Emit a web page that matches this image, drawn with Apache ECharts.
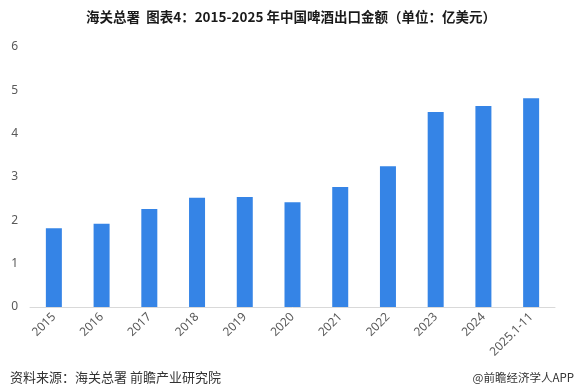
<!DOCTYPE html>
<html><head><meta charset="utf-8">
<script src="https://cdn.jsdelivr.net/npm/echarts@6/dist/echarts.min.js"></script>
<style>html,body{margin:0;padding:0;background:#fff}#c{width:582px;height:388px}</style>
</head><body><div id="c"></div>
<script>
const titleText = '海关总署  图表4：2015-2025 年中国啤酒出口金额（单位：亿美元）';
const sourceText = '资料来源：海关总署 前瞻产业研究院';
const brandText = '@前瞻经济学人APP';
const categories = ['2015','2016','2017','2018','2019','2020','2021','2022','2023','2024','2025.1-11'];
const values = [1.82, 1.92, 2.26, 2.52, 2.54, 2.42, 2.77, 3.25, 4.50, 4.64, 4.82];
const yTicks = [0,1,2,3,4,5,6];

const chart = echarts.init(document.getElementById('c'));
chart.setOption({
  animation: false,
  title: [
    {text: titleText, left: 'center', top: 5,
     textStyle: {fontFamily: 'Noto Sans CJK SC', fontSize: 13.5, fontWeight: 'bold', color: '#1a1a1a'}},
    {text: sourceText, left: 5, top: 366,
     textStyle: {fontFamily: 'Noto Sans CJK SC', fontSize: 13, fontWeight: 'normal', color: '#333'}},
    {text: brandText, right: 3, top: 367,
     textStyle: {fontFamily: 'Noto Sans CJK SC', fontSize: 11.5, fontWeight: 'normal', color: '#333'}}
  ],
  grid: {left: 30, right: 27, top: 47, bottom: 81, containLabel: false},
  xAxis: {
    type: 'category', data: categories,
    axisLine: {lineStyle: {color: '#d9d9d9'}},
    axisTick: {show: false},
    axisLabel: {rotate: 45, color: '#595959', fontSize: 12, fontFamily: 'Noto Sans', interval: 0, margin: 8}
  },
  yAxis: {
    type: 'value', min: yTicks[0], max: yTicks[yTicks.length-1], interval: 1,
    axisLine: {show: false}, axisTick: {show: false},
    splitLine: {show: false},
    axisLabel: {color: '#595959', fontSize: 12, fontFamily: 'Noto Sans', margin: 12}
  },
  series: [{
    type: 'bar', data: values, barWidth: 16,
    itemStyle: {color: '#3584E6'}
  }]
});
</script></body></html>
